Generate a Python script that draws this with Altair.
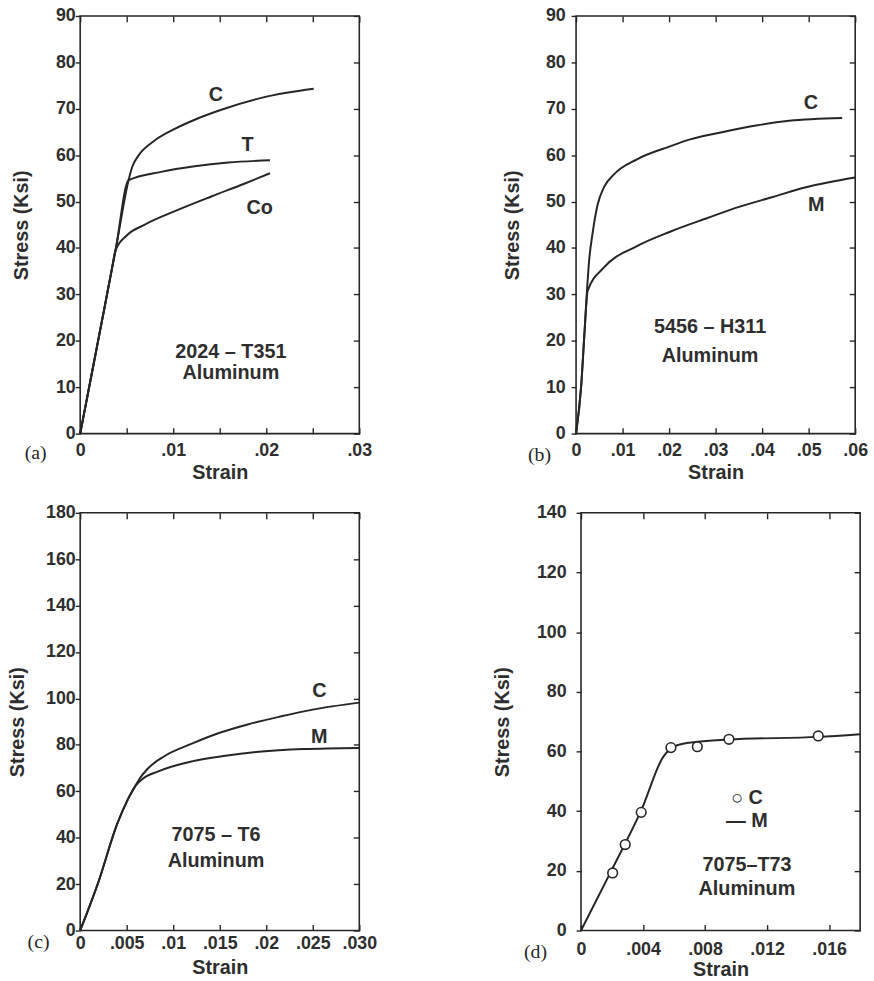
import altair as alt
import pandas as pd

# ---------------- data ----------------
# (a) 2024-T351 Aluminum
A_C_STRAIN = [0, 0.0013, 0.0026, 0.0034, 0.0038, 0.0052, 0.0056, 0.0063, 0.0079, 0.0100, 0.0125, 0.0155, 0.0198, 0.0251]
A_C_STRESS = [0, 13.5, 27.0, 35.4, 39.5, 54.6, 57.5, 60.0, 63.0, 65.5, 67.8, 70.0, 72.5, 74.3]
A_T_STRAIN = [0, 0.0013, 0.0026, 0.0034, 0.0038, 0.0052, 0.0087, 0.0123, 0.0159, 0.0204]
A_T_STRESS = [0, 13.5, 27.0, 35.4, 39.5, 54.6, 56.4, 57.6, 58.4, 58.9]
A_CO_STRAIN = [0, 0.0013, 0.0026, 0.0034, 0.0038, 0.0050, 0.0069, 0.0105, 0.0141, 0.0177, 0.0204]
A_CO_STRESS = [0, 13.5, 27.0, 35.4, 39.5, 42.7, 45.0, 48.2, 51.1, 53.9, 56.1]

# (b) 5456-H311 Aluminum
B_C_STRAIN = [0, 0.0011, 0.0018, 0.0023, 0.0028, 0.0036, 0.0046, 0.0060, 0.0082, 0.0131, 0.0202, 0.0245, 0.0316, 0.0387, 0.0458, 0.0572]
B_C_STRESS = [0, 10.3, 21.6, 30.1, 37.2, 43.5, 49.2, 53.1, 55.9, 59.1, 61.9, 63.4, 65.0, 66.4, 67.4, 68.0]
B_M_STRAIN = [0, 0.0011, 0.0018, 0.0025, 0.0060, 0.0131, 0.0202, 0.0281, 0.0352, 0.0423, 0.0494, 0.0600]
B_M_STRESS = [0, 10.3, 21.6, 30.8, 35.8, 40.4, 43.5, 46.4, 48.9, 51.0, 53.1, 55.2]

# (c) 7075-T6 Aluminum
C_C_STRAIN = [0, 0.0019, 0.0040, 0.0051, 0.0059, 0.0064, 0.0072, 0.0090, 0.0120, 0.0150, 0.0180, 0.0215, 0.0250, 0.0300]
C_C_STRESS = [0, 20.2, 46.2, 56.3, 62.1, 65.5, 69.5, 75.0, 80.5, 85.2, 88.8, 92.2, 95.2, 98.2]
C_M_STRAIN = [0, 0.0019, 0.0040, 0.0051, 0.0059, 0.0066, 0.0084, 0.0120, 0.0156, 0.0192, 0.0240, 0.0300]
C_M_STRESS = [0, 20.2, 46.2, 56.3, 62.1, 65.0, 68.6, 72.9, 75.3, 77.0, 78.2, 78.7]

# (d) 7075-T73 Aluminum
D_M_STRAIN = [0, 0.0020, 0.0039, 0.0053, 0.0062, 0.0074, 0.0095, 0.0153, 0.0180]
D_M_STRESS = [0, 20.5, 40.5, 58.2, 62.1, 63.2, 64.0, 64.9, 65.8]
D_C_STRAIN = [0.00204, 0.00285, 0.00388, 0.0058, 0.0075, 0.00954, 0.0153]
D_C_STRESS = [19.3, 28.8, 39.6, 61.3, 61.6, 64.1, 65.2]

# axis ticks and labels
A_XTICKS = [0, 0.005, 0.01, 0.015, 0.02, 0.025, 0.03]
A_XLABELS = ["0", "", ".01", "", ".02", "", ".03"]
A_YTICKS = [0, 10, 20, 30, 40, 50, 60, 70, 80, 90]
B_XTICKS = [0, 0.01, 0.02, 0.03, 0.04, 0.05, 0.06]
B_XLABELS = ["0", ".01", ".02", ".03", ".04", ".05", ".06"]
B_YTICKS = [0, 10, 20, 30, 40, 50, 60, 70, 80, 90]
C_XTICKS = [0, 0.005, 0.01, 0.015, 0.02, 0.025, 0.03]
C_XLABELS = ["0", ".005", ".01", ".015", ".02", ".025", ".030"]
C_YTICKS = [0, 20, 40, 60, 80, 100, 120, 140, 160, 180]
D_XTICKS = [0, 0.004, 0.008, 0.012, 0.016]
D_XLABELS = ["0", ".004", ".008", ".012", ".016"]
D_YTICKS = [0, 20, 40, 60, 80, 100, 120, 140]

# annotations (text, strain, stress)
A_NOTES = [("C", 0.0146, 72.9), ("T", 0.0180, 62.1), ("Co", 0.0193, 48.6),
           ("2024 – T351", 0.0162, 17.6), ("Aluminum", 0.0162, 13.0)]
B_NOTES = [("C", 0.0505, 71.2), ("M", 0.0516, 49.3),
           ("5456 – H311", 0.0288, 22.9), ("Aluminum", 0.0288, 16.8)]
C_NOTES = [("C", 0.0257, 103.1), ("M", 0.0257, 83.2),
           ("7075 – T6", 0.0146, 41.2), ("Aluminum", 0.0146, 30.0)]
D_NOTES = [("○ C", 0.0107, 44.3), ("— M", 0.0107, 36.7),
           ("7075–T73", 0.0107, 22.0), ("Aluminum", 0.0107, 14.0)]

FONT = "Liberation Sans"
SERIF = "Liberation Serif"
INK = "#262626"
TEXT = "#2e2e2e"
W, H = 282, 422


def lines_frame(series):
    rows = []
    for name, xs, ys in series:
        for i, (x, y) in enumerate(zip(xs, ys)):
            rows.append({"series": name, "i": i, "strain": x, "stress": y})
    return pd.DataFrame(rows)


def notes_frame(notes):
    return pd.DataFrame([{"text": t, "strain": x, "stress": y} for t, x, y in notes])


def panel(series, notes, xdom, ydom, xticks, xlabels, yticks, letter,
          letter_pos, x_lab_pad, y_lab_pad, y_title_x, x_title_pad, points=None):
    df = lines_frame(series)
    xs = alt.Scale(domain=xdom, nice=False, zero=False)
    ys = alt.Scale(domain=ydom, nice=False)
    step = xticks[1] - xticks[0]
    label_js = "[" + ",".join("'" + l + "'" for l in xlabels) + "]"
    x_main = alt.X("strain:Q", scale=xs,
                   axis=alt.Axis(orient="bottom", values=xticks,
                                 labelExpr=label_js + "[round(datum.value/" + repr(step) + ")]",
                                 offset=-6, tickSize=6, domain=False, grid=False,
                                 labelPadding=x_lab_pad, labelFlush=False, labelOverlap=False,
                                 title="Strain", titlePadding=x_title_pad))
    y_main = alt.Y("stress:Q", scale=ys,
                   axis=alt.Axis(orient="left", values=yticks, tickSize=5, domain=False,
                                 grid=False, labelPadding=y_lab_pad, labelFlush=False,
                                 labelOverlap=False, title="Stress (Ksi)", titleX=y_title_x))
    lines = alt.Chart(df).mark_line(interpolate="monotone", color=INK, strokeWidth=2).encode(
        x=x_main, y=y_main, detail="series:N", order="i:Q")
    x_top = alt.X("strain:Q", scale=xs,
                  axis=alt.Axis(orient="top", values=xticks, labels=False, offset=-6,
                                tickSize=6, domain=False, grid=False, title=None))
    y_right = alt.Y("stress:Q", scale=ys,
                    axis=alt.Axis(orient="right", values=yticks, labels=False, offset=-6,
                                  tickSize=6, domain=False, grid=False, title=None))
    ghost = alt.Chart(df).mark_line(opacity=0).encode(x=x_top, y=y_right, detail="series:N")
    txt = alt.Chart(notes_frame(notes)).mark_text(
        font=FONT, fontWeight="bold", fontSize=20, color=TEXT, align="center", baseline="middle"
    ).encode(x=alt.X("strain:Q", scale=xs, axis=None),
             y=alt.Y("stress:Q", scale=ys, axis=None), text="text:N")
    lab = alt.Chart(pd.DataFrame({"t": [letter]})).mark_text(
        font=SERIF, fontSize=20, color=INK, align="center", baseline="middle"
    ).encode(x=alt.value(letter_pos[0]), y=alt.value(H + letter_pos[1]), text="t:N")
    layers = [lines, ghost, txt, lab]
    if points is not None:
        pdf = pd.DataFrame({"strain": points[0], "stress": points[1]})
        pts = alt.Chart(pdf).mark_point(shape="circle", filled=True, fill="white",
                                        stroke=INK, strokeWidth=1.6, size=95, opacity=1).encode(
            x=alt.X("strain:Q", scale=xs, axis=None), y=alt.Y("stress:Q", scale=ys, axis=None))
        layers.append(pts)
    return alt.layer(*layers).resolve_axis(x="independent", y="independent").properties(
        width=W, height=H)


pa = panel([("C", A_C_STRAIN, A_C_STRESS), ("T", A_T_STRAIN, A_T_STRESS), ("Co", A_CO_STRAIN, A_CO_STRESS)],
           A_NOTES, [0, 0.03], [0, 90], A_XTICKS, A_XLABELS, A_YTICKS, "(a)", (-45, 20),
           x_lab_pad=8, y_lab_pad=0, y_title_x=-49, x_title_pad=3)
pb = panel([("C", B_C_STRAIN, B_C_STRESS), ("M", B_M_STRAIN, B_M_STRESS)],
           B_NOTES, [0, 0.06], [0, 90], B_XTICKS, B_XLABELS, B_YTICKS, "(b)", (-37, 22),
           x_lab_pad=8, y_lab_pad=6, y_title_x=-54, x_title_pad=3)
pc = panel([("C", C_C_STRAIN, C_C_STRESS), ("M", C_M_STRAIN, C_M_STRESS)],
           C_NOTES, [0, 0.03], [0, 180], C_XTICKS, C_XLABELS, C_YTICKS, "(c)", (-42, 12),
           x_lab_pad=4, y_lab_pad=0, y_title_x=-53, x_title_pad=5)
pd_ = panel([("M", D_M_STRAIN, D_M_STRESS)],
            D_NOTES, [0, 0.018], [0, 140], D_XTICKS, D_XLABELS, D_YTICKS, "(d)", (-46, 22),
            x_lab_pad=10, y_lab_pad=10, y_title_x=-69, x_title_pad=1,
            points=(D_C_STRAIN, D_C_STRESS))

chart = alt.vconcat(
    alt.hconcat(pa, pb, spacing=130),
    alt.hconcat(pc, pd_, spacing=115),
    spacing=20,
).properties(
    padding={"left": 7, "top": 1, "right": 5, "bottom": 5},
    background="white",
).configure_view(
    stroke=INK, strokeWidth=1.6
).configure_axis(
    labelFont=FONT, labelFontWeight="bold", labelFontSize=18, labelColor=TEXT,
    titleFont=FONT, titleFontWeight="bold", titleFontSize=20, titleColor=TEXT,
    tickColor=INK, tickWidth=1.4
)

chart.save("out.html", embed_options={"renderer": "svg", "actions": False})
